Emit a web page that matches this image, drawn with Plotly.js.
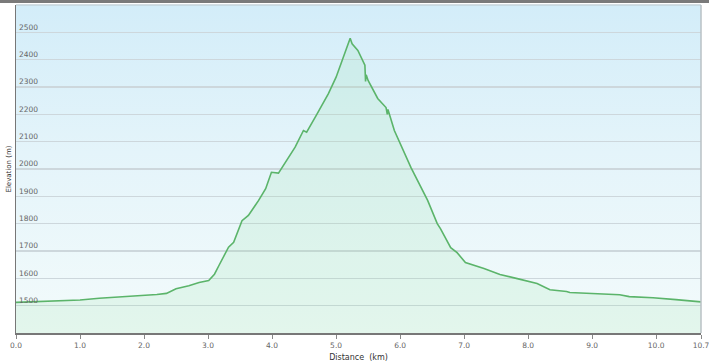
<!DOCTYPE html>
<html>
<head>
<meta charset="utf-8">
<script src="https://cdn.plot.ly/plotly-3.0.1.min.js"></script>
<style>
  html, body { margin: 0; padding: 0; background: #ffffff; }
  #wrap { position: relative; width: 709px; height: 363px; overflow: hidden; }
  #bg { position: absolute; left: 16px; top: 5px; width: 685px; height: 328px;
        background: linear-gradient(to bottom, #d3edf9 0%, #e4f4fa 45%, #f3fbfb 100%); }
  #topbar { position: absolute; left: 0; top: 0; width: 709px; height: 3px; background: #7a7a7a; }
  #chart { position: absolute; left: 0; top: 0; width: 709px; height: 363px; }
</style>
</head>
<body>
<div id="wrap">
  <div id="bg"></div>
  <div id="topbar"></div>
  <div id="chart"></div>
</div>
<script>
const distanceKm = [0.00, 0.30, 0.68, 1.00, 1.30, 1.65, 1.97, 2.20, 2.35, 2.50, 2.70, 2.86, 3.01, 3.10, 3.17, 3.32, 3.40, 3.53, 3.63, 3.79, 3.90, 3.99, 4.10, 4.20, 4.36, 4.49, 4.54, 4.69, 4.83, 4.88, 5.00, 5.10, 5.20, 5.22, 5.25, 5.34, 5.45, 5.46, 5.47, 5.50, 5.65, 5.78, 5.80, 5.81, 5.91, 6.17, 6.43, 6.58, 6.63, 6.79, 6.89, 7.02, 7.31, 7.56, 7.83, 8.14, 8.34, 8.60, 8.65, 9.07, 9.43, 9.58, 9.95, 10.31, 10.65, 10.70];
const elevationM = [1512, 1514, 1518, 1521, 1527, 1532, 1539, 1541, 1545, 1562, 1573, 1585, 1592, 1615, 1647, 1714, 1732, 1811, 1830, 1885, 1928, 1988, 1985, 2020, 2080, 2141, 2135, 2196, 2251, 2276, 2336, 2400, 2465, 2478, 2458, 2434, 2380, 2320, 2345, 2324, 2258, 2225, 2200, 2218, 2141, 2005, 1885, 1800, 1782, 1712, 1694, 1658, 1636, 1614, 1599, 1581, 1558, 1552, 1548, 1544, 1540, 1533, 1529, 1522, 1515, 1514];
const xTickVals = [0, 1, 2, 3, 4, 5, 6, 7, 8, 9, 10, 10.7];
const xTickText = ["0.0", "1.0", "2.0", "3.0", "4.0", "5.0", "6.0", "7.0", "8.0", "9.0", "10.0", "10.7"];
const yTickVals = [1500, 1600, 1700, 1800, 1900, 2000, 2100, 2200, 2300, 2400, 2500];

const trace = {
  x: distanceKm,
  y: elevationM,
  type: 'scatter',
  mode: 'lines',
  fill: 'tozeroy',
  fillcolor: 'rgba(140,225,160,0.16)',
  line: { color: '#5bb46a', width: 1.6 },
  hoverinfo: 'skip'
};

const layout = {
  width: 709,
  height: 363,
  margin: { l: 16, r: 8, t: 5, b: 30 },
  paper_bgcolor: 'rgba(0,0,0,0)',
  plot_bgcolor: 'rgba(0,0,0,0)',
  showlegend: false,
  font: { family: 'DejaVu Sans, Verdana, sans-serif', color: '#555' },
  xaxis: {
    range: [0, 10.7],
    tickvals: xTickVals,
    ticktext: xTickText,
    ticks: 'outside',
    ticklen: 4,
    tickcolor: '#888',
    tickfont: { size: 7.5, color: '#666' },
    ticklabeloverflow: 'allow',
    showgrid: false,
    zeroline: false,
    showline: true,
    linecolor: '#777',
    linewidth: 1.5,
    title: { text: 'Distance&nbsp;&nbsp;(km)', font: { size: 8, color: '#333' }, standoff: 6 }
  },
  yaxis: {
    range: [1400, 2600],
    tickvals: yTickVals,
    ticks: '',
    ticklabelposition: 'outside top',
    ticklabelstandoff: -25,
    ticklabeloverflow: 'allow',
    tickfont: { size: 7.5, color: '#666' },
    showgrid: true,
    gridcolor: '#cdd7dc',
    gridwidth: 1.2,
    zeroline: false,
    showline: true,
    linecolor: '#777',
    linewidth: 1.5,
    title: { text: 'Elevation (m)', font: { size: 7, color: '#333' }, standoff: 6 }
  },
  shapes: [
    { type: 'line', xref: 'paper', yref: 'paper', x0: 0, x1: 1, y0: 1, y1: 1, line: { color: '#c5d3da', width: 1.5 } },
    { type: 'line', xref: 'paper', yref: 'paper', x0: 1, x1: 1, y0: 0, y1: 1, line: { color: '#b8c0c4', width: 1.5 } }
  ]
};

Plotly.newPlot('chart', [trace], layout, { displayModeBar: false, staticPlot: true });
</script>
</body>
</html>
